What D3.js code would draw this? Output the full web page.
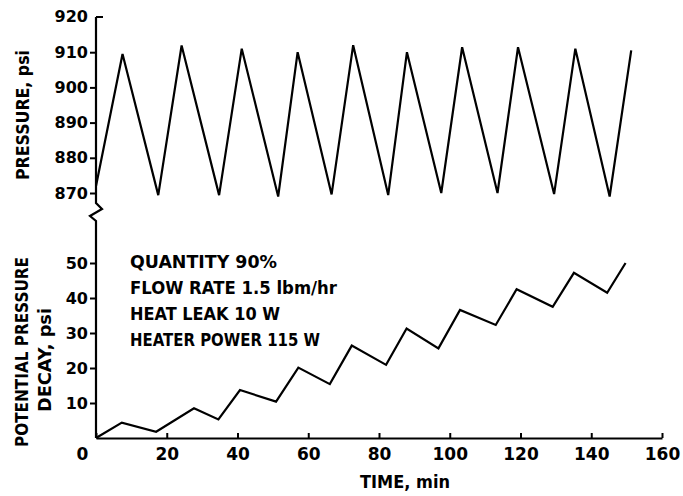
<!DOCTYPE html>
<html>
<head>
<meta charset="utf-8">
<script src="https://cdn.jsdelivr.net/npm/d3@7"></script>
<style>
  body { margin: 0; background: #fff; }
  text { font-family: "DejaVu Sans", sans-serif; font-weight: bold; fill: #000; }
</style>
</head>
<body>
<div id="chart"></div>
<script>
// values
var timeTicks = [0, 20, 40, 60, 80, 100, 120, 140, 160];
var pressureTicks = [870, 880, 890, 900, 910, 920];
var decayTicks = [10, 20, 30, 40, 50];

// top panel: tank pressure, sawtooth
var pressureTime = [0, 7.5, 17.6, 24.2, 34.8, 41.2, 51.5, 57, 66.6, 72.7, 82.6, 87.9, 97.6, 103.5, 113.5, 119.3, 129.5, 135.5, 145.2, 151.3];
var pressureVal = [872, 909.5, 869.4, 911.9, 869.4, 911, 869, 910, 869.6, 912, 869.4, 910, 870, 911.4, 870, 911.4, 869.7, 911, 869, 910.5];

// bottom panel: potential pressure decay
var decayTime = [0, 7.3, 17, 27.7, 34.6, 40.7, 50.9, 57.2, 66.1, 72.3, 82, 87.8, 96.8, 102.9, 113, 118.9, 129.1, 135.1, 144.5, 149.7];
var decayVal = [0, 4.4, 1.8, 8.5, 5.3, 13.7, 10.4, 20.1, 15.4, 26.4, 20.9, 31.3, 25.6, 36.6, 32.3, 42.5, 37.5, 47.2, 41.5, 50];

var notes = ["QUANTITY 90%", "FLOW RATE 1.5 lbm/hr", "HEAT LEAK 10 W", "HEATER POWER 115 W"];

var svgWidth = 683, svgHeight = 496;

var svg = d3.select("#chart")
    .append("svg")
    .attr("width", svgWidth)
    .attr("height", svgHeight);

//scales
var xScale = d3.scaleLinear().domain([0, 160]).range([96, 662]);
var yTop = d3.scaleLinear().domain([870, 920]).range([193, 17]);
var yBot = d3.scaleLinear().domain([0, 50]).range([438, 263]);

// left spine with the axis break
var x0 = xScale(0);
var brk = yTop(870) + 10;
svg.append("path")
    .attr("d", "M" + x0 + "," + yTop(920) + " L" + x0 + "," + brk +
        " L" + (x0 + 6) + "," + (brk + 6) +
        " L" + (x0 - 6) + "," + (brk + 13) +
        " L" + x0 + "," + (brk + 18) +
        " L" + x0 + "," + yBot(0))
    .attr("fill", "none")
    .attr("stroke", "#000")
    .attr("stroke-width", 2.2);

// top cap tick at 920 points inward
svg.append("line")
    .attr("x1", x0).attr("x2", x0 + 7)
    .attr("y1", yTop(920)).attr("y2", yTop(920))
    .attr("stroke", "#000").attr("stroke-width", 2);

//axes
var topAxis = svg.append("g")
    .attr("transform", `translate(${x0},0)`)
    .call(d3.axisLeft(yTop).tickValues(pressureTicks.slice(0, 5)).tickSize(6).tickPadding(2));
topAxis.select(".domain").remove();
// 920 label
topAxis.append("text")
    .attr("x", -8).attr("y", yTop(920)).attr("dy", "0.32em")
    .attr("text-anchor", "end")
    .text(pressureTicks[5]);

var botAxis = svg.append("g")
    .attr("transform", `translate(${x0},0)`)
    .call(d3.axisLeft(yBot).tickValues(decayTicks).tickSize(6).tickPadding(2));
botAxis.select(".domain").remove();

var xAxis = svg.append("g")
    .attr("transform", `translate(0,${yBot(0)})`)
    .call(d3.axisBottom(xScale).tickValues(timeTicks).tickSizeInner(-5).tickSizeOuter(0).tickPadding(10));
// shared corner "0" sits left of the origin
xAxis.selectAll(".tick text").filter(d => d === 0).attr("dx", -14);

svg.selectAll(".tick line").attr("stroke-width", 2);
xAxis.select(".domain").attr("stroke-width", 2.2);
svg.selectAll(".tick text")
    .attr("font-size", 16)
    .attr("font-family", "DejaVu Sans")
    .attr("font-weight", "bold");
topAxis.selectAll("text").attr("font-size", 16);
xAxis.selectAll(".tick text").attr("font-size", 17);

//lines
var topLine = d3.line().x(d => xScale(d[0])).y(d => yTop(d[1]));
svg.append("path")
    .attr("d", topLine(d3.zip(pressureTime, pressureVal)))
    .attr("fill", "none")
    .attr("stroke", "#000")
    .attr("stroke-width", 2.2)
    .attr("stroke-linejoin", "miter");

var botLine = d3.line().x(d => xScale(d[0])).y(d => yBot(d[1]));
svg.append("path")
    .attr("d", botLine(d3.zip(decayTime, decayVal)))
    .attr("fill", "none")
    .attr("stroke", "#000")
    .attr("stroke-width", 2.2)
    .attr("stroke-linejoin", "miter");

//notes
var noteLen = [147, 207, 150, 190];
svg.selectAll(".note")
    .data(notes)
    .enter()
    .append("text")
    .attr("class", "note")
    .attr("x", 130)
    .attr("y", (d, i) => 268 + i * 26)
    .attr("font-size", 17)
    .attr("textLength", (d, i) => noteLen[i])
    .attr("lengthAdjust", "spacingAndGlyphs")
    .text(d => d);

//axis titles
svg.append("text")
    .attr("transform", "translate(29,115) rotate(-90)")
    .attr("text-anchor", "middle")
    .attr("font-size", 17)
    .attr("textLength", 130)
    .attr("lengthAdjust", "spacingAndGlyphs")
    .text("PRESSURE, psi");

svg.append("text")
    .attr("transform", "translate(28,352) rotate(-90)")
    .attr("text-anchor", "middle")
    .attr("font-size", 17)
    .attr("textLength", 190)
    .attr("lengthAdjust", "spacingAndGlyphs")
    .text("POTENTIAL PRESSURE");

svg.append("text")
    .attr("transform", "translate(51,360) rotate(-90)")
    .attr("text-anchor", "middle")
    .attr("font-size", 17)
    .attr("textLength", 104)
    .attr("lengthAdjust", "spacingAndGlyphs")
    .text("DECAY, psi");

svg.append("text")
    .attr("x", 405)
    .attr("y", 488)
    .attr("text-anchor", "middle")
    .attr("font-size", 17)
    .attr("textLength", 90)
    .attr("lengthAdjust", "spacingAndGlyphs")
    .text("TIME, min");
</script>
</body>
</html>
